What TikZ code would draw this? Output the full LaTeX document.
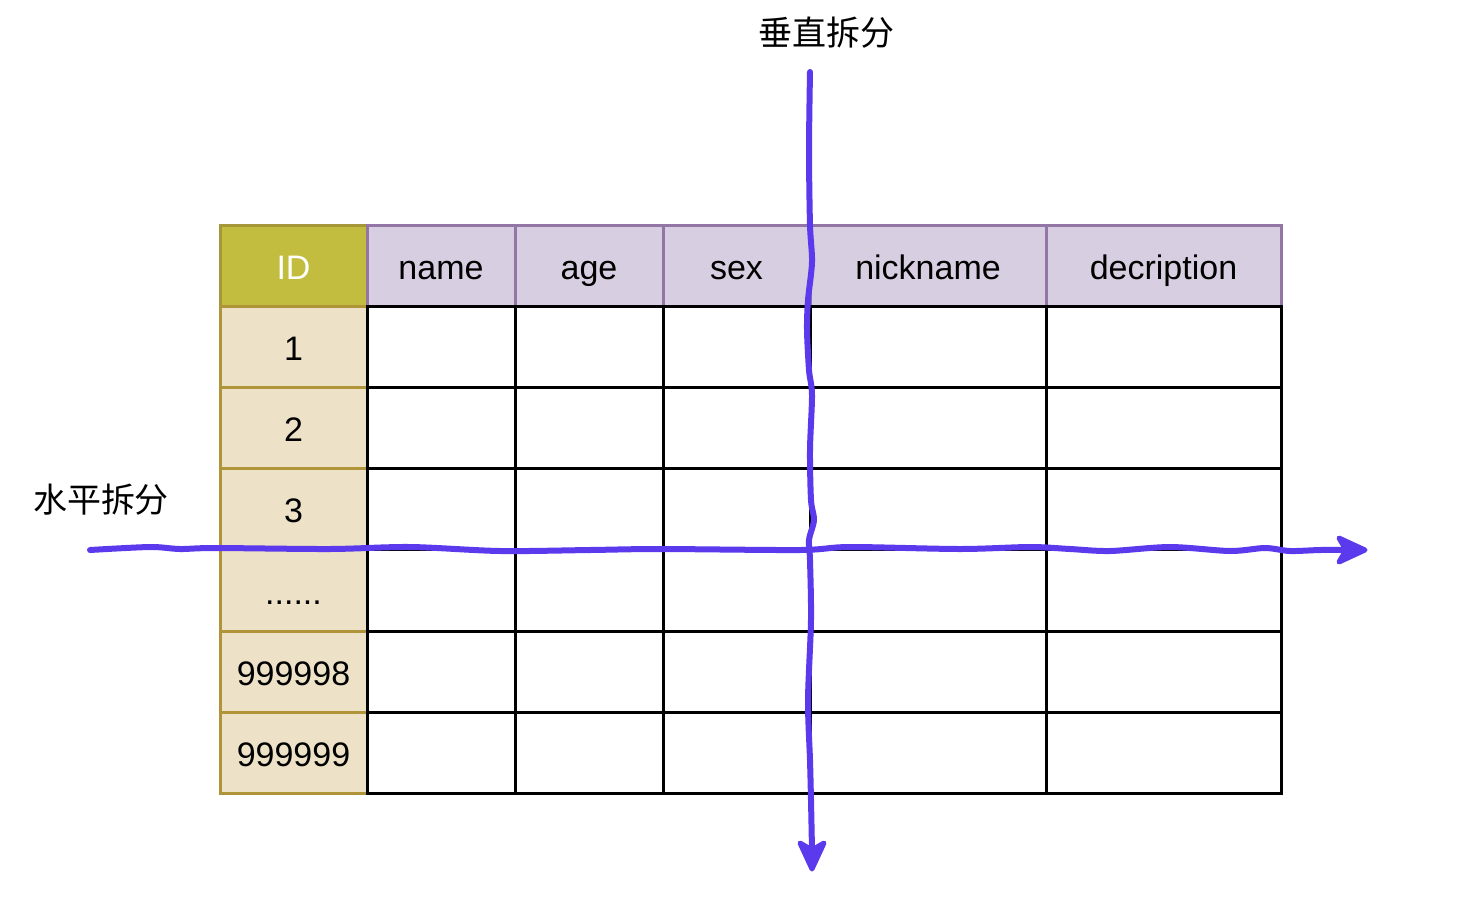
\documentclass[tikz,border=0pt]{standalone}
\usepackage{fontspec}
\setmainfont{Liberation Sans}
\newfontfamily\cjk{Noto Sans CJK SC}
\usetikzlibrary{arrows.meta}
\definecolor{idhead}{HTML}{C2BD3F}
\definecolor{idheadline}{HTML}{A5963A}
\definecolor{idbody}{HTML}{EDE2C7}
\definecolor{idbodyline}{HTML}{B0943A}
\definecolor{headfill}{HTML}{D8CEE1}
\definecolor{headline}{HTML}{9376A6}
\definecolor{splitpurple}{HTML}{5B3AED}
\tikzset{
  cellbase/.style={rectangle, inner sep=0pt, line width=3pt, text height=30pt, text depth=1.6pt, font=\fontsize{34}{40}\selectfont},
  idheadcell/.style={cellbase, draw=idheadline, fill=idhead, text=white},
  headcell/.style={cellbase, draw=headline, fill=headfill, text=black},
  idcell/.style={cellbase, draw=idbodyline, fill=idbody, text=black},
  bodycell/.style={cellbase, draw=black, fill=white},
  splitline/.style={draw=splitpurple, line width=6pt, line cap=round, line join=round},
  splithead/.style={draw=splitpurple, fill=splitpurple, line width=5pt, line join=round},
  splitlabel/.style={font=\cjk\fontsize{34}{40}\selectfont, inner sep=0pt}
}
\begin{document}
\begin{tikzpicture}[x=1pt,y=-1pt]
\useasboundingbox (0,0) rectangle (1476,898);
% header row
\node[idheadcell, minimum width=147pt, minimum height=81pt] (h0) at (293.5,265.5) {ID};
\foreach \nm/\xa/\xb/\txt in {h1/367/515/name, h2/515/663/age, h3/663/810/sex, h4/810/1046/nickname, h5/1046/1281/decription}{
  \node[headcell, minimum width={(\xb-\xa)*1pt}, minimum height=81pt] (\nm) at ({(\xa+\xb)/2},265.5) {\txt};
}
% ID column
\foreach \r/\ya/\yb/\txt in {1/306/387/1, 2/387/468/2, 3/468/549/3, 4/549/631/{......}, 5/631/712/999998, 6/712/793/999999}{
  \node[idcell, minimum width=147pt, minimum height={(\yb-\ya)*1pt}] (id\r) at (293.5,{(\ya+\yb)/2}) {\txt};
}
% body cells
\foreach \r/\ya/\yb in {1/306/387, 2/387/468, 3/468/549, 4/549/631, 5/631/712, 6/712/793}{
  \foreach \c/\xa/\xb in {1/367/515, 2/515/663, 3/663/810, 4/810/1046, 5/1046/1281}{
    \node[bodycell, minimum width={(\xb-\xa)*1pt}, minimum height={(\yb-\ya)*1pt}] (c\r-\c) at ({(\xa+\xb)/2},{(\ya+\yb)/2}) {};
  }
}
% labels
\node[splitlabel] (vlabel) at (826,33) {垂直拆分};
\node[splitlabel] (hlabel) at (101,500) {水平拆分};
% split lines
\coordinate (hs) at (90,550);
\coordinate (he) at (1365,550);
\coordinate (vs) at (810,72);
\coordinate (ve) at (812,869);
\draw[splitline] plot[smooth, tension=0.5] coordinates {(hs) (150,547) (180,549) (215,548) (330,549) (410,547) (500,551) (590,550) (660,549) (800,550) (850,547) (960,549) (1030,547) (1070,549) (1110,551) (1170,547) (1230,551) (1265,548) (1290,551) (1320,550) (1345,550)};
\filldraw[splithead] (he) -- ++(-26,-12) -- ++(7,12) -- ++(-7,12) -- cycle;
\draw[splitline] plot[smooth, tension=0.5] coordinates {(vs) (809,150) (810,225) (812,262) (808,300) (807,330) (809,370) (812,395) (810,450) (811,500) (814,520) (809,540) (810,560) (811,620) (808,700) (810,760) (811,800) (812,850)};
\filldraw[splithead] (ve) -- ++(-12,-26) -- ++(12,7) -- ++(12,-7) -- cycle;
\end{tikzpicture}
\end{document}
